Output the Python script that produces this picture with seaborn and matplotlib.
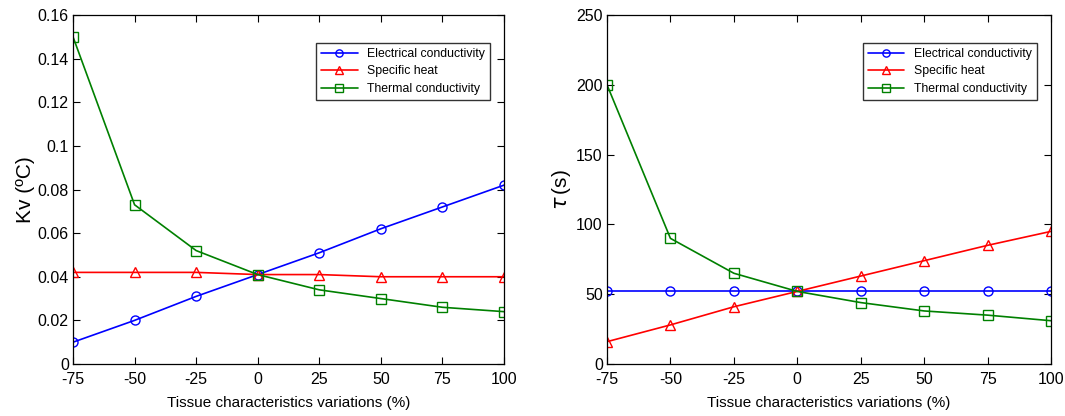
import pandas as pd
import matplotlib.pyplot as plt
import seaborn as sns

# data
variation = [-75, -50, -25, 0, 25, 50, 75, 100]
series_names = ['Electrical conductivity', 'Specific heat', 'Thermal conductivity']

kv_elec = [0.010, 0.020, 0.031, 0.041, 0.051, 0.062, 0.072, 0.082]
kv_heat = [0.042, 0.042, 0.042, 0.041, 0.041, 0.040, 0.040, 0.040]
kv_therm = [0.150, 0.073, 0.052, 0.041, 0.034, 0.030, 0.026, 0.024]

tau_elec = [52, 52, 52, 52, 52, 52, 52, 52]
tau_heat = [16, 28, 41, 52, 63, 74, 85, 95]
tau_therm = [200, 90, 65, 52, 44, 38, 35, 31]

sns.set_style('ticks')
plt.rcParams['font.family'] = ['Liberation Sans', 'DejaVu Sans']
plt.rcParams['xtick.direction'] = 'in'
plt.rcParams['ytick.direction'] = 'in'
plt.rcParams['text.color'] = 'black'
plt.rcParams['axes.labelcolor'] = 'black'
plt.rcParams['xtick.color'] = 'black'
plt.rcParams['ytick.color'] = 'black'

colors = ['#0000ff', '#ff0000', '#008000']
markers = ['o', '^', 's']


def make_df(vals):
    rows = []
    for name, v in zip(series_names, vals):
        for x, y in zip(variation, v):
            rows.append({'x': x, 'y': y, 'series': name})
    return pd.DataFrame(rows)


fig = plt.figure(figsize=(10.65, 4.16), dpi=100)
ax1 = fig.add_axes([73 / 1065, 1 - 364 / 416, 431 / 1065, 349 / 416])
ax2 = fig.add_axes([607 / 1065, 1 - 364 / 416, 444 / 1065, 349 / 416])

panels = [
    (ax1, make_df([kv_elec, kv_heat, kv_therm]), 'Kv (ºC)', 15, (0, 0.16),
     [0, 0.02, 0.04, 0.06, 0.08, 0.1, 0.12, 0.14, 0.16],
     ['0', '0.02', '0.04', '0.06', '0.08', '0.1', '0.12', '0.14', '0.16']),
    (ax2, make_df([tau_elec, tau_heat, tau_therm]), r'$\tau\,$(s)', 15, (0, 250),
     [0, 50, 100, 150, 200, 250],
     ['0', '50', '100', '150', '200', '250']),
]

for ax, df, ylabel, ysize, ylim, yticks, ylabels in panels:
    for name, c, m in zip(series_names, colors, markers):
        sns.lineplot(data=df[df.series == name], x='x', y='y', ax=ax, color=c,
                     marker=m, markersize=6.5, markerfacecolor='none', markeredgecolor=c,
                     markeredgewidth=1.0, linewidth=1.2, label=name)
    ax.set_xlim(-75, 100)
    ax.set_ylim(*ylim)
    ax.set_xticks(variation)
    ax.set_xticklabels([str(v) for v in variation])
    ax.set_yticks(yticks)
    ax.set_yticklabels(ylabels)
    ax.tick_params(labelsize=11.5, top=True, right=True, length=5, width=0.8)
    ax.tick_params(axis='x', pad=6)
    ax.tick_params(axis='y', pad=3)
    ax.set_xlabel('Tissue characteristics variations (%)', fontsize=11, labelpad=6)
    ax.set_ylabel(ylabel, fontsize=ysize, labelpad=2)
    for sp in ax.spines.values():
        sp.set_linewidth(0.9)
        sp.set_color('black')
    leg = ax.legend(loc='upper right', bbox_to_anchor=(0.982, 0.937), fontsize=8.8,
                    frameon=True, fancybox=False, edgecolor='black', markerscale=0.8,
                    handlelength=3, borderpad=0.4, labelspacing=0.45)
    leg.get_frame().set_linewidth(1.0)

fig.savefig('out.png', dpi=100)
